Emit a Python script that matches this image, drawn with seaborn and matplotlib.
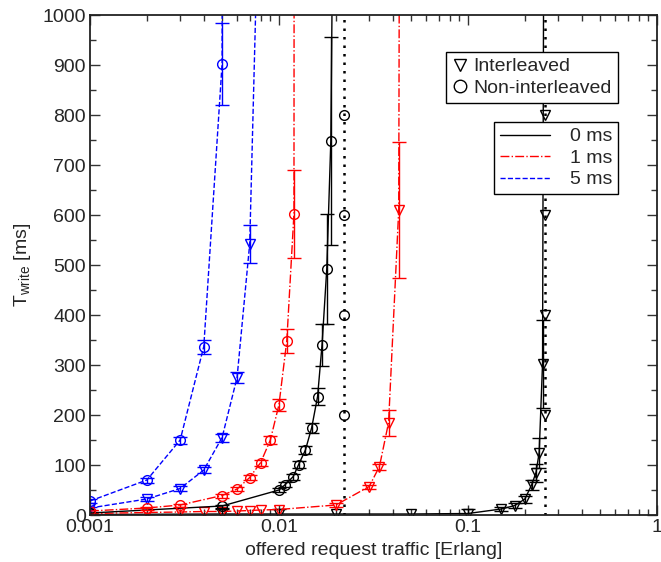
import numpy as np
import pandas as pd
import matplotlib
matplotlib.use("Agg")
import matplotlib.pyplot as plt
from matplotlib.lines import Line2D
from matplotlib.ticker import FixedLocator, FuncFormatter, LogLocator, NullFormatter, MultipleLocator
import seaborn as sns

# ---------------- data ----------------
# 0 ms, interleaved
int0_x = [0.001, 0.005, 0.01, 0.02, 0.05, 0.1, 0.15, 0.177, 0.2, 0.217, 0.229, 0.238, 0.248, 0.253]
int0_y = [1, 2, 2, 2, 2, 3, 12, 19, 32, 60, 85, 125, 303, 1500]
int0_e = [0, 10, 10, 0, 0, 10, 4, 5, 7, 10, 18, 30, 88, 0]
# 1 ms, interleaved
int1_x = [0.001, 0.002, 0.003, 0.004, 0.005, 0.006, 0.007, 0.008, 0.01, 0.02, 0.03, 0.034, 0.038, 0.043, 0.0445]
int1_y = [3, 5, 6, 7, 7, 8, 9, 10, 11, 20, 57, 97, 185, 610, 3000]
int1_e = [0, 0, 0, 0, 0, 0, 0, 0, 0, 4, 4, 6, 26, 136, 0]
# 5 ms, interleaved
int5_x = [0.001, 0.002, 0.003, 0.004, 0.005, 0.006, 0.007, 0.008]
int5_y = [14, 32, 53, 90, 155, 275, 543, 1400]
int5_e = [3, 4, 5, 6, 8, 11, 38, 0]
# 0 ms, non-interleaved
non0_x = [0.001, 0.005, 0.01, 0.0108, 0.0119, 0.0127, 0.0138, 0.0149, 0.016, 0.0169, 0.0179, 0.0188, 0.0196]
non0_y = [4, 18, 50, 61, 77, 101, 130, 175, 237, 341, 493, 748, 1500]
non0_e = [0, 3, 4, 5, 6, 7, 8, 10, 17, 42, 110, 208, 0]
# 1 ms, non-interleaved
non1_x = [0.001, 0.002, 0.003, 0.005, 0.006, 0.007, 0.008, 0.009, 0.01, 0.011, 0.012, 0.0121]
non1_y = [8, 14, 20, 39, 52, 75, 105, 150, 221, 349, 603, 3000]
non1_e = [0, 3, 3, 4, 4, 5, 6, 8, 12, 24, 88, 0]
# 5 ms, non-interleaved
non5_x = [0.001, 0.002, 0.003, 0.004, 0.005, 0.0051]
non5_y = [28, 70, 150, 337, 903, 3000]
non5_e = [4, 5, 7, 14, 82, 0]

# asymptotes (dotted verticals with markers)
asym_non_x = 0.0222
asym_int_x = 0.255
asym_mark_y = [200, 400, 600, 800]

x_ticks = [0.001, 0.01, 0.1, 1]
x_tick_labels = ["0.001", "0.01", "0.1", "1"]
y_ticks = list(range(0, 1001, 100))

# ---------------- style ----------------
sns.set_style("ticks")
plt.rcParams["font.family"] = ["Liberation Sans", "DejaVu Sans"]
plt.rcParams["mathtext.default"] = "regular"
plt.rcParams["xtick.direction"] = "in"
plt.rcParams["ytick.direction"] = "in"

FS = 14

fig = plt.figure(figsize=(6.61, 5.62), dpi=100)
ax = fig.add_axes([90 / 661, 1 - 515 / 562, 567 / 661, 500 / 562])

series = [
    (int0_x, int0_y, int0_e, "black", "-", "v"),
    (int1_x, int1_y, int1_e, "#ff0000", "-.", "v"),
    (int5_x, int5_y, int5_e, "#0000ff", "--", "v"),
    (non0_x, non0_y, non0_e, "black", "-", "o"),
    (non1_x, non1_y, non1_e, "#ff0000", "-.", "o"),
    (non5_x, non5_y, non5_e, "#0000ff", "--", "o"),
]

for xs, ys, es, col, ls, mk in series:
    df = pd.DataFrame({"x": xs, "y": ys, "e": es})
    sns.lineplot(data=df, x="x", y="y", ax=ax, estimator=None, sort=False,
                 color=col, linestyle=ls, linewidth=1.0, marker=mk,
                 markersize=7, markerfacecolor="none", markeredgecolor=col,
                 markeredgewidth=1.0, legend=False)
    sub = df[df["e"] > 0]
    ax.errorbar(sub["x"], sub["y"], yerr=sub["e"], fmt="none", ecolor=col,
                elinewidth=1.0, capsize=5, capthick=1.0)

# dotted asymptotes
for ax_x, mk in [(asym_non_x, "o"), (asym_int_x, "v")]:
    dfl = pd.DataFrame({"x": [ax_x, ax_x], "y": [0, 1000]})
    sns.lineplot(data=dfl, x="x", y="y", ax=ax, estimator=None, sort=False,
                 color="black", linestyle=(0, (1, 2.4)), linewidth=1.8, legend=False)
    dfm = pd.DataFrame({"x": [ax_x] * len(asym_mark_y), "y": asym_mark_y})
    sns.lineplot(data=dfm, x="x", y="y", ax=ax, estimator=None, sort=False,
                 color="black", linestyle="none", marker=mk, markersize=7,
                 markerfacecolor="none", markeredgecolor="black",
                 markeredgewidth=1.0, legend=False)

ax.set_xscale("log")
ax.set_xlim(0.001, 1)
ax.set_ylim(0, 1000)
ax.xaxis.set_major_locator(FixedLocator(x_ticks))
ax.xaxis.set_major_formatter(FuncFormatter(lambda v, p: x_tick_labels[x_ticks.index(v)] if v in x_ticks else ""))
ax.xaxis.set_minor_locator(LogLocator(base=10, subs=np.arange(2, 10), numticks=20))
ax.xaxis.set_minor_formatter(NullFormatter())
ax.yaxis.set_major_locator(FixedLocator(y_ticks))
ax.yaxis.set_minor_locator(MultipleLocator(50))

ax.tick_params(axis="both", which="major", direction="in", top=True, right=True,
               length=7, width=1.0, labelsize=FS, pad=3, color="#333333")
ax.tick_params(axis="both", which="minor", direction="in", top=True, right=True,
               length=4, width=1.0, color="#333333")
for s in ax.spines.values():
    s.set_linewidth(1.3)
    s.set_color("#222222")

ax.set_xlabel("offered request traffic [Erlang]", fontsize=FS, labelpad=4)
ax.set_ylabel(r"T$_{write}$ [ms]", fontsize=FS, labelpad=7)

# legends
h1 = [Line2D([], [], color="black", linestyle="none", marker="v", markersize=9,
             markerfacecolor="none", markeredgewidth=1.0),
      Line2D([], [], color="black", linestyle="none", marker="o", markersize=9,
             markerfacecolor="none", markeredgewidth=1.0)]
leg1 = ax.legend(h1, ["Interleaved", "Non-interleaved"], loc="upper right",
                 bbox_to_anchor=(0.931, 0.926), fontsize=FS, frameon=True,
                 fancybox=False, framealpha=1, edgecolor="black",
                 handlelength=0.75, handletextpad=0.35, borderpad=0.3,
                 labelspacing=0.2, borderaxespad=0)
leg1.get_frame().set_linewidth(1.0)
ax.add_artist(leg1)

h2 = [Line2D([], [], color="black", linestyle="-", linewidth=1.0),
      Line2D([], [], color="#ff0000", linestyle="-.", linewidth=1.0),
      Line2D([], [], color="#0000ff", linestyle="--", linewidth=1.0)]
leg2 = ax.legend(h2, ["0 ms", "1 ms", "5 ms"], loc="upper right",
                 bbox_to_anchor=(0.931, 0.786), fontsize=FS, frameon=True,
                 fancybox=False, framealpha=1, edgecolor="black",
                 handlelength=2.6, handletextpad=1.0, borderpad=0.3,
                 labelspacing=0.2, borderaxespad=0)
leg2.get_frame().set_linewidth(1.0)

fig.savefig("out.png", dpi=100)
